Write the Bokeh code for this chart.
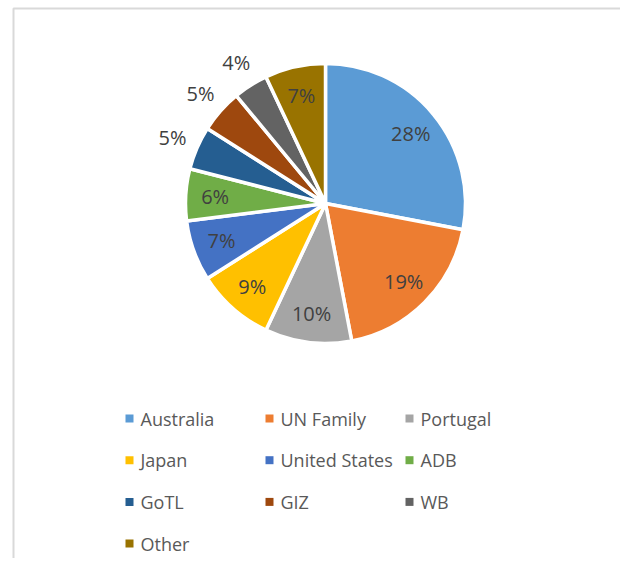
import numpy as np
from bokeh.plotting import figure
from bokeh.models import ColumnDataSource, Range1d
from bokeh.core.properties import value
from bokeh.embed import file_html
from bokeh.resources import INLINE

# ---- data ----
partners = ["Australia", "UN Family", "Portugal", "Japan", "United States",
            "ADB", "GoTL", "GIZ", "WB", "Other"]
shares = [28, 19, 10, 9, 7, 6, 5, 5, 4, 7]
colors = ["#5B9BD5", "#ED7D31", "#A5A5A5", "#FFC000", "#4472C4",
          "#70AD47", "#255E91", "#9E480E", "#636363", "#997300"]

# ---- layout (data units = pixels from figure's top-left; y measured upward) ----
PH = 574
FW, FH = 620, 558
CX, CY, R = 325, PH - 203, 140
FONT = "Open Sans"

p = figure(width=FW, height=FH,
           x_range=Range1d(0, FW), y_range=Range1d(PH - FH, PH),
           output_backend="svg", toolbar_location=None, min_border=0)
p.axis.visible = False
p.grid.visible = False
p.outline_line_color = None
p.background_fill_color = "white"
p.border_fill_color = "white"

# chart-area frame (top and left edges visible)
p.line(x=[13, 13, FW + 2], y=[PH - FH - 2, PH - 8, PH - 8],
       line_color="#d9d9d9", line_width=2)

frac = np.array(shares, dtype=float) / sum(shares)
cum = np.concatenate([[0.0], np.cumsum(frac)])
start = np.pi / 2 - 2 * np.pi * cum[1:]
end = np.pi / 2 - 2 * np.pi * cum[:-1]
mid = (start + end) / 2

inside = frac >= 0.055
lab_r = np.where(inside, 0.79 * R, 1.19 * R)
src = ColumnDataSource(dict(
    start=start, end=end, color=colors, name=partners,
    lx=CX + lab_r * np.cos(mid), ly=CY + lab_r * np.sin(mid),
    txt=[f"{s}%" for s in shares],
))

p.wedge(x=CX, y=CY, radius=R, start_angle="start", end_angle="end",
        fill_color="color", line_color="white", line_width=3.5, source=src)

p.text(x="lx", y="ly", text="txt", source=src, text_font=value(FONT),
       text_font_size="20px", text_color="#404040",
       text_align="center", text_baseline="middle")

# ---- legend (3 columns) ----
idx = np.arange(len(partners))
leg = ColumnDataSource(dict(
    mx=129 + 140 * (idx % 3),
    my=PH - (418 + 41.7 * (idx // 3)),
    color=colors, name=partners,
))
leg.data["tx"] = leg.data["mx"] + 11
p.scatter(x="mx", y="my", marker="square", size=8, fill_color="color",
          line_color=None, source=leg)
p.text(x="tx", y="my", text="name", source=leg, text_font=value(FONT),
       text_font_size="18px", text_color="#595959",
       text_align="left", text_baseline="middle")

open("out.html", "w").write(file_html(p, INLINE))
